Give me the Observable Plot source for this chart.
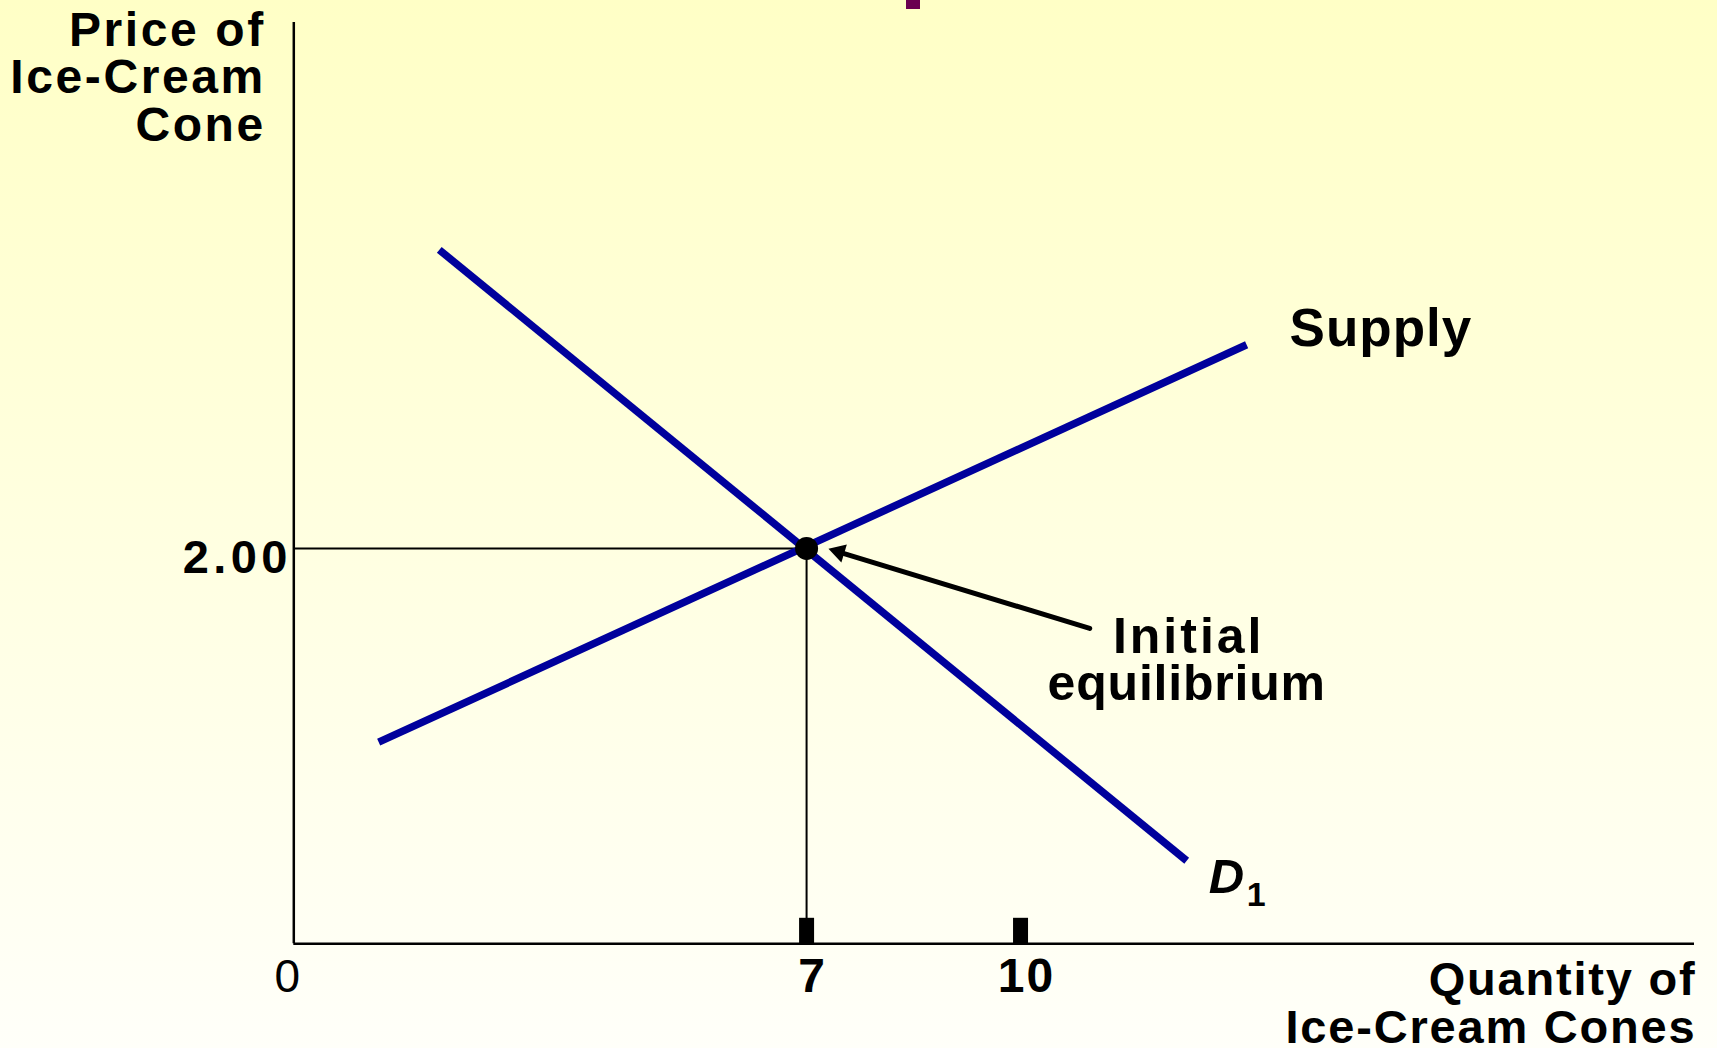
<!DOCTYPE html>
<html>
<head>
<meta charset="utf-8">
<script src="https://cdn.jsdelivr.net/npm/d3@7"></script>
<script src="https://cdn.jsdelivr.net/npm/@observablehq/plot@0.6"></script>
<style>
  html, body { margin: 0; padding: 0; }
  body {
    width: 1717px; height: 1048px; overflow: hidden; position: relative;
    background: linear-gradient(to bottom, #FFFFC6 0%, #FFFFE0 50%, #FFFFF9 100%);
  }
  #chart { position: absolute; left: 0; top: 0; }
  #titleStub { position: absolute; left: 906px; top: 0; width: 14px; height: 9px; background: #6B0050; }
</style>
</head>
<body>
<div id="titleStub"></div>
<div id="chart"></div>
<script>
// ---- data ----
const xDomain = [-0.19, 19.45];
const yDomain = [0, 4.66];
const demand = [{q: 1.85, p: 3.51}, {q: 12.33, p: 0.42}];
const supply = [{q: 1.0, p: 1.02}, {q: 13.17, p: 3.03}];
const equilibrium = [{q: 7, p: 2}];
const xTicks = [7, 10];
const xTickLabels = ["7", "10"];
const yTicks = [2];
const yTickLabels = ["2.00"];
const originLabel = ["0"];
const arrowData = [{q1: 10.97, p1: 1.595, q2: 7.38, p2: 1.99}];
const yTitle = "Price of\nIce-Cream\nCone";
const xTitle = "Quantity of\nIce-Cream Cones";
const supplyLabel = "Supply";
const demandLabel = "D";
const demandSub = "1";
const eqLabel1 = "Initial";
const eqLabel2 = "equilibrium";

const font = "Liberation Sans, Arial, Helvetica, sans-serif";
const blue = "#00009C";
const W = 1717, H = 1048;
const M = {left: 293.3, right: 23, top: 22, bottom: 104.7};
const sEnd = supply[supply.length - 1];
const dEnd = demand[demand.length - 1];
const arr = arrowData[0];

// direction of the arrow in screen space (for the filled arrowhead)
const kx = (W - M.left - M.right) / (xDomain[1] - xDomain[0]);
const ky = (H - M.top - M.bottom) / (yDomain[1] - yDomain[0]);
const vx = (arr.q2 - arr.q1) * kx, vy = -(arr.p2 - arr.p1) * ky;
const vlen = Math.hypot(vx, vy);
const ux = vx / vlen, uy = vy / vlen;
const headAngleDeg = Math.atan2(ux, -uy) * 180 / Math.PI;
const headR = 7;
const tipOffset = 2 * Math.sqrt(Math.PI * headR * headR / (3 * Math.sqrt(3)));

const chart = Plot.plot({
  width: W,
  height: H,
  marginLeft: M.left,
  marginRight: M.right,
  marginTop: M.top,
  marginBottom: M.bottom,
  x: {domain: xDomain, axis: null},
  y: {domain: yDomain, axis: null},
  style: {background: "transparent", fontFamily: font, overflow: "visible", color: "black"},
  marks: [
    // axes
    Plot.ruleX([xDomain[0]], {y1: yDomain[0], y2: yDomain[1], stroke: "black", strokeWidth: 2.5}),
    Plot.ruleY([0], {x1: xDomain[0], x2: xDomain[1], stroke: "black", strokeWidth: 2.5}),
    // guides to equilibrium
    Plot.ruleY(equilibrium, {y: "p", x1: xDomain[0], x2: "q", stroke: "black", strokeWidth: 2}),
    Plot.ruleX(equilibrium, {x: "q", y1: 0, y2: "p", stroke: "black", strokeWidth: 2}),
    // x tick marks
    Plot.vector(xTicks, {
      x: d => d, y: 0, length: 26, anchor: "start", stroke: "black", strokeWidth: 15,
      strokeLinecap: "butt",
      shape: {draw(context, l) { context.moveTo(0, 0); context.lineTo(0, -l); }}
    }),
    // curves
    Plot.line(demand, {x: "q", y: "p", stroke: blue, strokeWidth: 7.5, strokeLinecap: "butt"}),
    Plot.line(supply, {x: "q", y: "p", stroke: blue, strokeWidth: 7.5, strokeLinecap: "butt"}),
    // equilibrium dot
    Plot.dot(equilibrium, {x: "q", y: "p", r: 11.5, fill: "black"}),
    // arrow shaft + filled head
    Plot.arrow(arrowData, {x1: "q1", y1: "p1", x2: "q2", y2: "p2", stroke: "black", strokeWidth: 5,
      headLength: 0, insetEnd: tipOffset}),
    Plot.dot(arrowData, {x: "q2", y: "p2", symbol: "triangle", r: headR, fill: "black", rotate: headAngleDeg,
      dx: -ux * tipOffset / 2, dy: -uy * tipOffset / 2}),
    // tick labels
    Plot.text(xTicks, {x: d => d, y: 0, text: (d, i) => xTickLabels[i], lineAnchor: "bottom", dy: 48, dx: 6,
      fontSize: 48, fontWeight: "bold", fill: "black"}),
    Plot.text(originLabel, {x: 0, y: 0, text: d => d, lineAnchor: "bottom", dy: 48, dx: -20,
      fontSize: 46, fontWeight: "normal", fill: "black"}),
    Plot.text(yTicks, {x: xDomain[0], y: d => d, text: (d, i) => yTickLabels[i], textAnchor: "end", lineAnchor: "bottom",
      dx: -2, dy: 25, fontSize: 47, fontWeight: "bold", fill: "black"}),
    // axis titles
    Plot.text([yTitle], {x: xDomain[0], y: yDomain[1], text: d => d, textAnchor: "end", lineAnchor: "bottom",
      dx: -28, dy: 118, lineHeight: 47.5 / 48, fontSize: 48, fontWeight: "bold", fill: "black"}),
    Plot.text([xTitle], {x: xDomain[1], y: 0, text: d => d, textAnchor: "end", lineAnchor: "bottom",
      dx: 2, dy: 99, lineHeight: 48 / 47, fontSize: 47, fontWeight: "bold", fill: "black"}),
    // curve labels
    Plot.text([supplyLabel], {x: sEnd.q, y: sEnd.p, text: d => d, textAnchor: "start", lineAnchor: "bottom",
      dx: 43, dy: 1, fontSize: 53, fontWeight: "bold", fill: "black"}),
    Plot.text([demandLabel], {x: dEnd.q, y: dEnd.p, text: d => d, textAnchor: "start", lineAnchor: "bottom",
      dx: 22, dy: 32, fontSize: 49, fontWeight: "bold", fontStyle: "italic", fill: "black"}),
    Plot.text([demandSub], {x: dEnd.q, y: dEnd.p, text: d => d, textAnchor: "start", lineAnchor: "bottom",
      dx: 60, dy: 45, fontSize: 34, fontWeight: "bold", fill: "black"}),
    // annotation
    Plot.text([eqLabel1], {x: arr.q1, y: arr.p1, text: d => d, textAnchor: "middle", lineAnchor: "bottom",
      dx: 99, dy: 25, fontSize: 50, fontWeight: "bold", fill: "black"}),
    Plot.text([eqLabel2], {x: arr.q1, y: arr.p1, text: d => d, textAnchor: "middle", lineAnchor: "bottom",
      dx: 97, dy: 72, fontSize: 50, fontWeight: "bold", fill: "black"})
  ]
});

// letter spacing (style only), matched by each text's content
const spacing = [
  [yTitle, "2.6px"], [xTitle, "1.8px"], [yTickLabels[0], "4.4px"], [supplyLabel, "1px"],
  [eqLabel1, "3px"], [eqLabel2, "0.8px"]
];
d3.select(chart).selectAll("text").each(function () {
  const t = this.textContent;
  for (const [s, ls] of spacing) {
    if (t === s.replace(/\n/g, "")) this.style.letterSpacing = ls;
  }
  if (xTickLabels.includes(t)) this.style.letterSpacing = "2px";
});
document.getElementById("chart").appendChild(chart);
</script>
</body>
</html>
